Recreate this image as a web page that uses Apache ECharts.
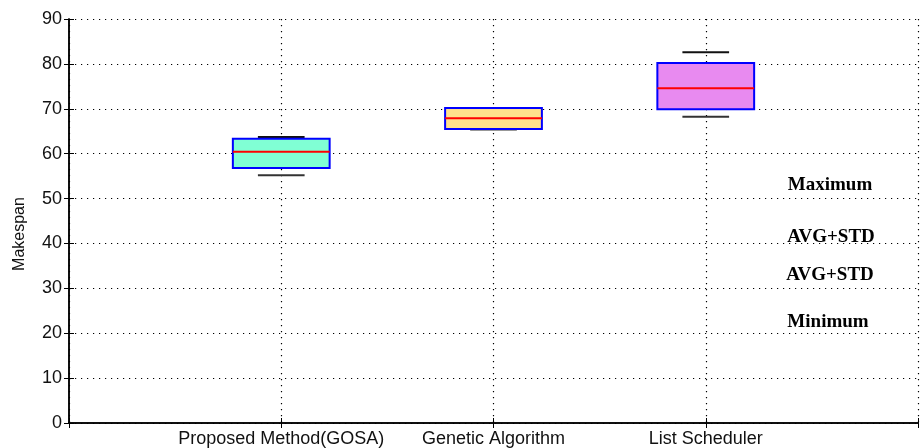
<!DOCTYPE html>
<html>
<head>
<meta charset="utf-8">
<script src="https://cdn.jsdelivr.net/npm/echarts@6/dist/echarts.min.js"></script>
<style>
html,body{margin:0;padding:0;background:#fff;}
#chart{width:921px;height:448px;}
</style>
</head>
<body>
<div id="chart"></div>
<script>
// Data
var categories = ['Proposed Method(GOSA)', 'Genetic Algorithm', 'List Scheduler'];
var positions = [1, 2, 3];
var minimum = [55.2, 65.4, 68.2];
var q1 = [56.8, 65.5, 69.9];
var median = [60.4, 67.9, 74.6];
var q3 = [63.3, 70.2, 80.2];
var maximum = [63.7, 70.2, 82.6];
var fills = ['#80FFD4', '#FFE08C', '#E88AF0'];
var yTicks = [0, 10, 20, 30, 40, 50, 60, 70, 80, 90];
var yAxisName = 'Makespan';
var annotations = ['Maximum', 'AVG+STD', 'AVG+STD', 'Minimum'];

var boxData = positions.map(function (p, i) {
  return [p, minimum[i], q1[i], median[i], q3[i], maximum[i], i];
});

var chart = echarts.init(document.getElementById('chart'), null, {renderer: 'canvas'});

var font = 'Liberation Sans, Arial, sans-serif';
var axisCommon = {
  axisLine: {show: true, lineStyle: {color: '#000', width: 1.5}},
  axisTick: {show: true, inside: true, length: 5, lineStyle: {color: '#000', width: 1}},
  splitLine: {show: false}
};
var gridDots = {color: '#000', type: [1.2, 4.8], width: 1.2};

var option = {
  animation: false,
  backgroundColor: '#fff',
  grid: {left: 69, right: 1, top: 19, bottom: 25, containLabel: false},
  xAxis: [
    Object.assign({}, axisCommon, {
      type: 'value', min: 0, max: 4, interval: 1, position: 'bottom',
      axisLabel: {
        show: true, color: '#111', fontFamily: font, fontSize: 18, margin: 7,
        formatter: function (v) { var i = positions.indexOf(v); return i >= 0 ? categories[i] : ''; }
      },
      splitLine: {show: true, lineStyle: gridDots}
    }),
    Object.assign({}, axisCommon, {
      type: 'value', min: 0, max: 4, interval: 1, position: 'top',
      axisLabel: {show: false}
    })
  ],
  yAxis: [
    Object.assign({}, axisCommon, {
      type: 'value', min: 0, max: 90, interval: 10, position: 'left',
      axisLabel: {show: true, color: '#111', fontFamily: font, fontSize: 18, margin: 7,
        formatter: function (v) { return yTicks.indexOf(v) >= 0 ? String(v) : ''; }},
      splitLine: {show: true, lineStyle: gridDots}
    }),
    Object.assign({}, axisCommon, {
      type: 'value', min: 0, max: 90, interval: 10, position: 'right',
      axisLabel: {show: false}
    })
  ],
  series: [{
    type: 'custom',
    xAxisIndex: 0, yAxisIndex: 0,
    data: boxData,
    encode: {x: 0, y: [1, 2, 3, 4, 5]},
    renderItem: function (params, api) {
      var x = api.value(0);
      var halfBox = 0.228, halfCap = 0.11;
      var pMin = api.coord([x, api.value(1)]);
      var pQ1 = api.coord([x, api.value(2)]);
      var pMed = api.coord([x, api.value(3)]);
      var pQ3 = api.coord([x, api.value(4)]);
      var pMax = api.coord([x, api.value(5)]);
      var left = api.coord([x - halfBox, 0])[0];
      var right = api.coord([x + halfBox, 0])[0];
      var cl = api.coord([x - halfCap, 0])[0];
      var cr = api.coord([x + halfCap, 0])[0];
      var idx = api.value(6);
      return {
        type: 'group',
        children: [
          {type: 'line', shape: {x1: cl, y1: pMax[1], x2: cr, y2: pMax[1]},
            style: {stroke: '#111', lineWidth: 2}},
          {type: 'line', shape: {x1: cl, y1: pMin[1], x2: cr, y2: pMin[1]},
            style: {stroke: '#333', lineWidth: 2}},
          {type: 'rect', shape: {x: left, y: pQ3[1], width: right - left, height: pQ1[1] - pQ3[1]},
            style: {fill: fills[idx], stroke: '#0000FF', lineWidth: 2}},
          {type: 'line', shape: {x1: left, y1: pMed[1], x2: right, y2: pMed[1]},
            style: {stroke: '#FF0000', lineWidth: 2}}
        ]
      };
    },
    z: 1
  }],
  graphic: [
    {type: 'text', x: 20, y: 234, rotation: Math.PI / 2,
      style: {text: yAxisName, font: '16px "Liberation Sans", Arial, sans-serif', fill: '#111', align: 'center', verticalAlign: 'middle'}},
    {type: 'text', x: 830, y: 185, style: {text: annotations[0], font: 'bold 19px "Liberation Serif", "Times New Roman", serif', fill: '#000', align: 'center', verticalAlign: 'middle'}},
    {type: 'text', x: 831, y: 237, style: {text: annotations[1], font: 'bold 19px "Liberation Serif", "Times New Roman", serif', fill: '#000', align: 'center', verticalAlign: 'middle'}},
    {type: 'text', x: 830, y: 275, style: {text: annotations[2], font: 'bold 19px "Liberation Serif", "Times New Roman", serif', fill: '#000', align: 'center', verticalAlign: 'middle'}},
    {type: 'text', x: 828, y: 322, style: {text: annotations[3], font: 'bold 19px "Liberation Serif", "Times New Roman", serif', fill: '#000', align: 'center', verticalAlign: 'middle'}}
  ]
};
chart.setOption(option);
</script>
</body>
</html>
